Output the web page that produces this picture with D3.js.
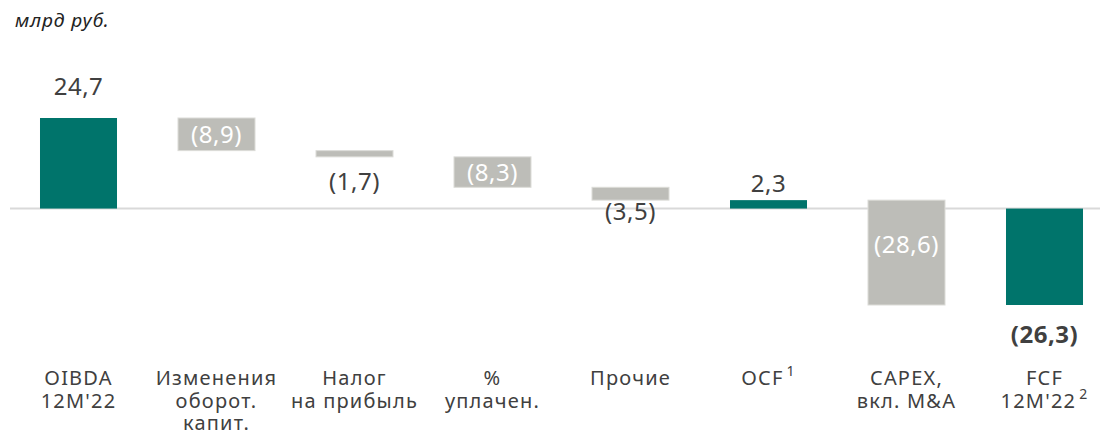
<!DOCTYPE html>
<html><head><meta charset="utf-8">
<script src="https://cdn.jsdelivr.net/npm/d3@7"></script>
<style>body{margin:0;background:#fff;} svg{display:block;font-family:"Noto Sans",sans-serif;}</style>
</head><body>
<svg id="c" width="1102" height="437"></svg>
<script>
const categories = ["OIBDA 12M'22","Изменения оборот. капит.","Налог на прибыль","% уплачен.","Прочие","OCF","CAPEX, вкл. M&A","FCF 12M'22"];
const labelLines = [["OIBDA","12M'22"],["Изменения","оборот.","капит."],["Налог","на прибыль"],["%","уплачен."],["Прочие"],["OCF"],["CAPEX,","вкл. M&A"],["FCF","12M'22"]];
const superscripts = ["","","","","","1","","2"];
const values = [24.7,-8.9,-1.7,-8.3,-3.5,2.3,-28.6,-26.3];
const kinds = ["total","delta","delta","delta","delta","total","delta","total"];
const valueLabels = ["24,7","(8,9)","(1,7)","(8,3)","(3,5)","2,3","(28,6)","(26,3)"];
const labelPos = ["above","inside","below","inside","below","above","inside","below"];
const labelOffset = [-23, 8.5, 33, 8.5, 20, -8, 0, 38];

const svg = d3.select("#c");
const x = d3.scaleBand().domain(categories).range([9.5,1113.5]).paddingInner(0.442).paddingOuter(0.221);
const y = d3.scaleLinear().domain([-26.3,24.7]).range([305,118]);

let run = 0;
const bars = values.map((v,i)=>{
  let y0,y1;
  if(kinds[i]==="total"){ y0=0; y1=v; run=v; }
  else { y0=run; y1=run+v; run=y1; }
  return {cat:categories[i], v, y0, y1, kind:kinds[i], label:valueLabels[i], pos:labelPos[i], i};
});

svg.append("text").attr("x",15).attr("y",27).attr("font-size",19).attr("letter-spacing",1)
  .attr("font-style","italic").attr("fill","#222").text("млрд руб.");

svg.append("line").attr("x1",10).attr("x2",1100).attr("y1",y(0)).attr("y2",y(0)).attr("stroke","#d9d9d9").attr("stroke-width",2);

svg.selectAll("rect.b").data(bars).join("rect")
  .attr("x",d=>x(d.cat)).attr("width",x.bandwidth())
  .attr("y",d=>y(Math.max(d.y0,d.y1))).attr("height",d=>Math.abs(y(d.y0)-y(d.y1)))
  .attr("fill",d=>d.kind==="total"?"#00746b":"#bdbdb8")
  .attr("stroke",d=>d.kind==="total"?"none":"#dcdcd8").attr("stroke-width",1);

svg.selectAll("text.v").data(bars).join("text")
  .attr("text-anchor","middle")
  .attr("x",d=>x(d.cat)+x.bandwidth()/2)
  .attr("y",d=>{
    const top=y(Math.max(d.y0,d.y1)), bot=y(Math.min(d.y0,d.y1));
    const off=labelOffset[d.i];
    if(d.pos==="above") return top+off;
    if(d.pos==="inside") return (top+bot)/2+off;
    return bot+off;
  })
  .attr("font-size",24).attr("letter-spacing",0.5)
  .attr("font-weight",d=>d.kind==="total"&&d.v<0?"bold":"normal")
  .attr("fill",d=>d.pos==="inside"?"#ffffff":"#404040")
  .text(d=>d.label);

const lbl = svg.selectAll("g.l").data(bars).join("g")
  .attr("transform",d=>`translate(${x(d.cat)+x.bandwidth()/2},0)`);
lbl.each(function(d){
  const g=d3.select(this);
  const lines=labelLines[d.i];
  lines.forEach((t,k)=>{
    const tx=g.append("text").attr("text-anchor","middle").attr("y",385+k*22.5)
      .attr("font-size",20).attr("letter-spacing",1.2).attr("fill","#404040").text(t);
    if(k===lines.length-1 && superscripts[d.i]){
      tx.append("tspan").attr("font-size",14).attr("dx",3).attr("dy",-9).text(superscripts[d.i]);
    }
  });
});
</script>
</body></html>
